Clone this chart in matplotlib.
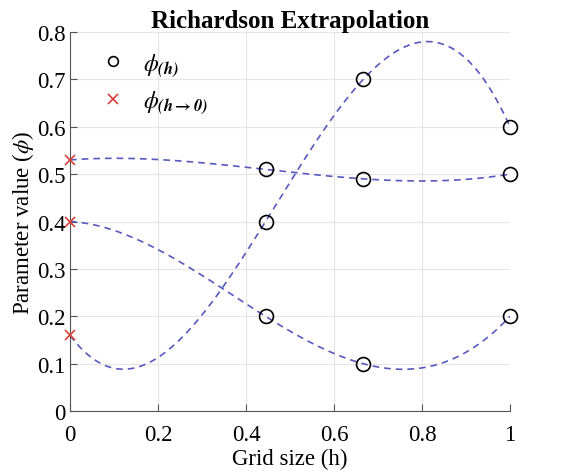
import numpy as np
import matplotlib.pyplot as plt

# grid sizes (refinement ratio 1.5) and parameter values
h = [4/9, 2/3, 1.0]
phi_a = [0.51, 0.49, 0.50]
phi_b = [0.40, 0.70, 0.60]
phi_c = [0.20, 0.10, 0.20]
phi0 = [0.53, 0.16, 0.40]   # extrapolated values at h -> 0

plt.rcParams['font.family'] = ['Liberation Serif', 'DejaVu Serif']
plt.rcParams['mathtext.fontset'] = 'stix'

fig = plt.figure(figsize=(5.71, 4.77), dpi=100)
ax = fig.add_axes([0.1226, 0.136, 0.7705, 0.795])

curve_col = (0.35, 0.35, 0.75)
hh = np.linspace(0, 1, 300)
for ys, y0 in zip([phi_a, phi_b, phi_c], phi0):
    xs = [0.0] + h
    vals = [y0] + ys
    p = np.polyfit(xs, vals, 3)
    ax.plot(hh, np.polyval(p, hh), '--', color=curve_col, lw=1.2, dashes=(4, 3))

for i, ys in enumerate([phi_a, phi_b, phi_c]):
    ax.plot(h, ys, 'o', mfc='none', mec='black', ms=10, mew=1.2,
            label=r'$\phi_{\mathbfit{(h)}}$' if i == 0 else None, clip_on=False, zorder=5)
ax.plot([0, 0, 0], phi0, 'x', color='#d9403a', ms=7, mew=1.2,
        label=r'$\phi_{\mathbfit{(h}\mathbf{\rightarrow}\mathbfit{0)}}$', clip_on=False, zorder=5)

ax.set_xlim(0, 1)
ax.set_ylim(0, 0.8)
ax.set_xticks([0, 0.2, 0.4, 0.6, 0.8, 1])
ax.set_xticklabels(['0', '0.2', '0.4', '0.6', '0.8', '1'])
ax.set_yticks(np.arange(0, 0.81, 0.1))
ax.set_yticklabels(['0', '0.1', '0.2', '0.3', '0.4', '0.5', '0.6', '0.7', '0.8'])
ax.grid(True, color='#e6e6e6', lw=0.8)
ax.set_axisbelow(True)
for s in ['top', 'right']:
    ax.spines[s].set_visible(False)
for s in ['left', 'bottom']:
    ax.spines[s].set_color('#555555')
ax.tick_params(direction='in', labelsize=16.5, length=5, color='#555555', pad=3)
ax.tick_params(axis='x', pad=9)

ax.set_title('Richardson Extrapolation', fontsize=18, fontweight='bold', pad=3)
ax.set_xlabel('Grid size (h)', fontsize=16.5, labelpad=2)
ax.set_ylabel(r'Parameter value ($\phi$)', fontsize=16.5, labelpad=1)

leg = ax.legend(loc='upper left', frameon=False, fontsize=17, handletextpad=0.3,
                borderaxespad=0.4, labelspacing=0.45, handlelength=2.0)
for lh in leg.legend_handles:
    lh.set_markersize(7)

fig.savefig('out.png', dpi=100)
